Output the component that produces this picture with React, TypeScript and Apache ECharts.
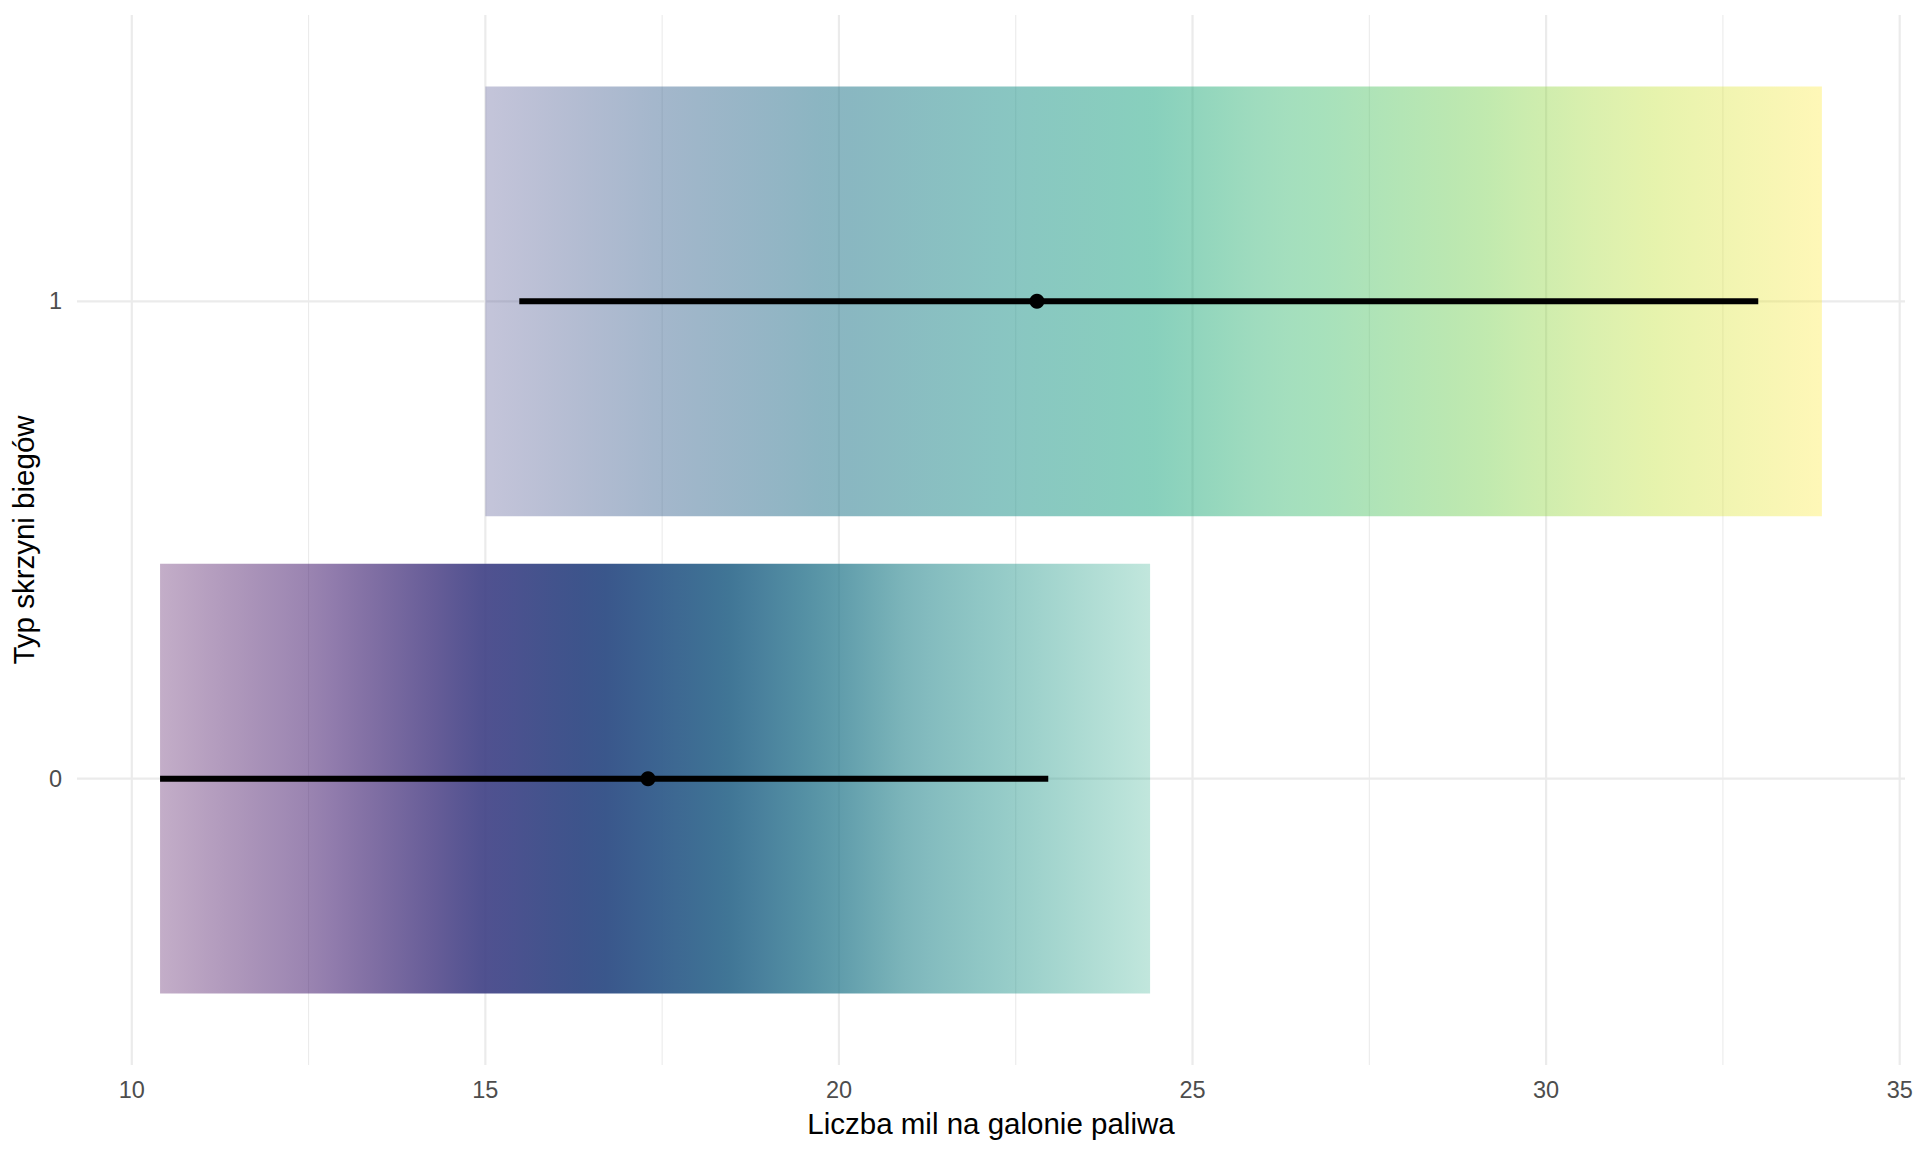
import React, { useEffect, useRef } from "react";
import * as echarts from "echarts";

// ---- data ----
const categories = ["0", "1"];
const categoryValues = [0, 1];
const rangeMin = [10.4, 15.0];
const rangeMax = [24.4, 33.9];
const medians = [17.3, 22.8];
const intervalLow = [10.4, 15.48];
const intervalHigh = [22.96, 33.0];

const xMajorTicks = [10, 15, 20, 25, 30, 35];
const xMinorTicks = [12.5, 17.5, 22.5, 27.5, 32.5];

// opacity profile of each slab, sampled along x from the picture
const alphaX0 = [10.4, 12.43, 14.96, 16.57, 18.38, 19.82, 21.08, 22.52, 24.4];
const alpha0 = [0.32, 0.54, 0.92, 1.0, 0.93, 0.77, 0.58, 0.46, 0.28];
const alphaX1 = [15.0, 17.42, 19.89, 22.38, 24.5, 26.1, 28.96, 31.07, 33.9];
const alpha1 = [0.31, 0.45, 0.55, 0.53, 0.54, 0.47, 0.47, 0.39, 0.33];

// ---- style ----
const FONT = "Liberation Sans, Arial, sans-serif";
const VIRIDIS = [
  "#440154", "#482475", "#414487", "#355F8D", "#2A788E", "#21918C",
  "#22A884", "#44BF70", "#7AD151", "#BDDF26", "#FDE725",
];
const X_MIN = 9.225;
const X_MAX = 35.075;
const Y_MIN = -0.6;
const Y_MAX = 1.6;
const HALF_BAR = 0.45;

function hexToRgb(h: string) {
  const n = parseInt(h.slice(1), 16);
  return [(n >> 16) & 255, (n >> 8) & 255, n & 255];
}
function viridis(t: number) {
  const c = Math.max(0, Math.min(1, t)) * (VIRIDIS.length - 1);
  const i = Math.min(VIRIDIS.length - 2, Math.floor(c));
  const f = c - i;
  const a = hexToRgb(VIRIDIS[i]);
  const b = hexToRgb(VIRIDIS[i + 1]);
  return a.map((v, k) => Math.round(v + (b[k] - v) * f));
}
function alphaAt(xs: number[], as: number[], x: number) {
  if (x <= xs[0]) return as[0];
  for (let i = 1; i < xs.length; i++) {
    if (x <= xs[i]) {
      const f = (x - xs[i - 1]) / (xs[i] - xs[i - 1]);
      return as[i - 1] + (as[i] - as[i - 1]) * f;
    }
  }
  return as[as.length - 1];
}
const colorLo = Math.min(...rangeMin);
const colorHi = Math.max(...rangeMax);
function slabStops(idx: number) {
  const lo = rangeMin[idx];
  const hi = rangeMax[idx];
  const xs = idx === 0 ? alphaX0 : alphaX1;
  const as = idx === 0 ? alpha0 : alpha1;
  const stops: { offset: number; color: string }[] = [];
  const n = 40;
  for (let k = 0; k <= n; k++) {
    const x = lo + ((hi - lo) * k) / n;
    const c = viridis((x - colorLo) / (colorHi - colorLo));
    const a = alphaAt(xs, as, x);
    stops.push({ offset: k / n, color: `rgba(${c[0]},${c[1]},${c[2]},${a.toFixed(3)})` });
  }
  return stops;
}

export default function App() {
  const ref = useRef<HTMLDivElement>(null);
  useEffect(() => {
    document.body.style.margin = "0";
    if (!ref.current) return;
    const chart = echarts.init(ref.current, undefined, { renderer: "svg" });

    const gridLine = (width: number) => (params: any, api: any) => {
      const v = api.value(0);
      const p0 = api.coord([v, Y_MIN]);
      const p1 = api.coord([v, Y_MAX]);
      return {
        type: "line",
        shape: { x1: p0[0], y1: p0[1], x2: p1[0], y2: p1[1] },
        style: { stroke: "#ebebeb", lineWidth: width },
        silent: true,
      };
    };

    chart.setOption({
      animation: false,
      backgroundColor: "#ffffff",
      grid: { left: 76, right: 15, top: 15, bottom: 87, containLabel: false },
      xAxis: {
        type: "value",
        min: X_MIN,
        max: X_MAX,
        axisLine: { show: false },
        axisTick: { show: false },
        splitLine: { show: false },
        axisLabel: {
          customValues: xMajorTicks,
          color: "#4d4d4d",
          fontSize: 23.5,
          fontFamily: FONT,
          margin: 13,
          formatter: (v: number) => String(v),
        },
        name: "Liczba mil na galonie paliwa",
        nameLocation: "middle",
        nameGap: 43,
        nameTextStyle: { color: "#000000", fontSize: 29.5, fontFamily: FONT },
      },
      yAxis: {
        type: "value",
        min: Y_MIN,
        max: Y_MAX,
        axisLine: { show: false },
        axisTick: { show: false },
        splitLine: { show: false },
        axisLabel: {
          customValues: categoryValues,
          color: "#4d4d4d",
          fontSize: 23.5,
          fontFamily: FONT,
          margin: 15,
          formatter: (v: number) => categories[categoryValues.indexOf(Math.round(v))] ?? "",
        },
        name: "Typ skrzyni biegów",
        nameLocation: "middle",
        nameGap: 31,
        nameTextStyle: { color: "#000000", fontSize: 29.5, fontFamily: FONT },
      },
      series: [
        {
          type: "custom",
          name: "minorX",
          renderItem: gridLine(1.1),
          data: xMinorTicks.map((v) => [v]),
          z: 1,
          silent: true,
        },
        {
          type: "custom",
          name: "majorX",
          renderItem: gridLine(2.2),
          data: xMajorTicks.map((v) => [v]),
          z: 1,
          silent: true,
        },
        {
          type: "custom",
          name: "majorY",
          renderItem: (params: any, api: any) => {
            const v = api.value(1);
            const p0 = api.coord([X_MIN, v]);
            const p1 = api.coord([X_MAX, v]);
            return {
              type: "line",
              shape: { x1: p0[0], y1: p0[1], x2: p1[0], y2: p1[1] },
              style: { stroke: "#ebebeb", lineWidth: 2.2 },
            };
          },
          data: categoryValues.map((v) => [X_MIN, v]),
          z: 1,
          silent: true,
        },
        {
          type: "custom",
          name: "slab",
          renderItem: (params: any, api: any) => {
            const lo = api.value(0);
            const hi = api.value(1);
            const c = api.value(2);
            const p0 = api.coord([lo, c + HALF_BAR]);
            const p1 = api.coord([hi, c - HALF_BAR]);
            return {
              type: "rect",
              shape: { x: p0[0], y: p0[1], width: p1[0] - p0[0], height: p1[1] - p0[1] },
              style: {
                fill: new echarts.graphic.LinearGradient(0, 0, 1, 0, slabStops(params.dataIndex)),
              },
            };
          },
          data: categoryValues.map((c, i) => [rangeMin[i], rangeMax[i], c]),
          z: 2,
          silent: true,
        },
        {
          type: "custom",
          name: "interval",
          renderItem: (params: any, api: any) => {
            const lo = api.value(0);
            const hi = api.value(1);
            const c = api.value(2);
            const p0 = api.coord([lo, c]);
            const p1 = api.coord([hi, c]);
            return {
              type: "line",
              shape: { x1: p0[0], y1: p0[1], x2: p1[0], y2: p1[1] },
              style: { stroke: "#000000", lineWidth: 6, lineCap: "butt" },
            };
          },
          data: categoryValues.map((c, i) => [intervalLow[i], intervalHigh[i], c]),
          z: 3,
          silent: true,
        },
        {
          type: "scatter",
          name: "median",
          data: categoryValues.map((c, i) => [medians[i], c]),
          symbol: "circle",
          symbolSize: 15,
          itemStyle: { color: "#000000", opacity: 1 },
          z: 4,
          silent: true,
        },
      ],
    });
    return () => chart.dispose();
  }, []);
  return <div ref={ref} style={{ width: 1920, height: 1152 }} />;
}
